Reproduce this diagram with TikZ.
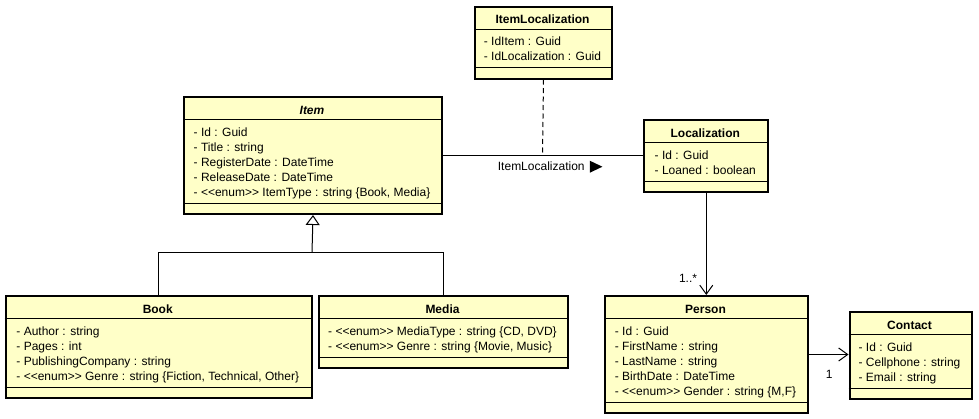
\documentclass[tikz,border=0pt]{standalone}
\usepackage{fontspec}
\newfontfamily\umlfont{Liberation Sans}
\usetikzlibrary{arrows.meta,calc}
\definecolor{clsfill}{RGB}{255,255,200}
\newcommand\umlclass[7]{%
  \pgfmathsetmacro\clsH{42+15*#5}%
  \pgfmathsetmacro\clsW{#4-#2}%
  \node[clsbox, minimum width=\clsW pt, minimum height=\clsH pt] (#1) at (#2,#3) {};
  \draw[septr] (#2,#3+23.5) -- (#4,#3+23.5);
  \draw[septr] (#2,#3+32+15*#5) -- (#4,#3+32+15*#5);
  \node[clstitle] (#1-title) at ({(#2+#4)/2},#3+18) {#6};
  \node[clsattrs] (#1-attrs) at ({(#2+#4)/2},#3+30) {\rule{0pt}{10pt}#7};
}
\begin{document}
\begin{tikzpicture}[x=1pt,y=-1pt,
  clsbox/.style={draw=black, line width=2pt, fill=clsfill, rectangle, inner sep=0pt, anchor=north west},
  septr/.style={line width=1pt},
  clstitle/.style={font=\umlfont\fontsize{12}{15}\selectfont\bfseries, anchor=base, inner sep=0pt},
  clsattrs/.style={font=\umlfont\fontsize{12}{15}\selectfont, align=left, anchor=north, inner sep=0pt},
  conn/.style={line width=1pt},
  lbl/.style={font=\umlfont\fontsize{12}{15}\selectfont, inner sep=0pt},
]
\useasboundingbox (0,0) rectangle (979,418);
\fill[white] (0,0) rectangle (979,418);

\umlclass{itemloc}{474}{5.5}{611}{2}{ItemLocalization}{- IdItem : Guid\\- IdLocalization : Guid}
\umlclass{item}{183}{96}{441}{5}{\itshape Item}{- Id : Guid\\- Title : string\\- RegisterDate : DateTime\\- ReleaseDate : DateTime\\- <<enum>> ItemType : string \{Book, Media\}}
\umlclass{loc}{643.3}{119}{767.3}{2}{Localization}{- Id : Guid\\- Loaned : boolean}
\umlclass{book}{4.5}{295}{311}{4}{Book}{- Author : string\\- Pages : int\\- PublishingCompany : string\\- <<enum>> Genre : string \{Fiction, Technical, Other\}}
\umlclass{media}{318.3}{295}{566.7}{2}{Media}{- <<enum>> MediaType : string \{CD, DVD\}\\- <<enum>> Genre : string \{Movie, Music\}}
\umlclass{person}{604.3}{295}{806.7}{5}{Person}{- Id : Guid\\- FirstName : string\\- LastName : string\\- BirthDate : DateTime\\- <<enum>> Gender : string \{M,F\}}
\umlclass{contact}{848.5}{311}{970.5}{3}{Contact}{- Id : Guid\\- Cellphone : string\\- Email : string}

% association Item -- Localization with association class
\coordinate (assoc) at (542.5,155.3);
\draw[conn] (item.east |- assoc) -- (loc.west |- assoc);
\draw[conn, dash pattern=on 5pt off 3.5pt] (itemloc.south) -- (assoc);
\node[lbl, anchor=base west] (assoclbl) at (497.7,170) {ItemLocalization};
\fill ($(assoclbl.east)+(5,-5)$) -- ++(12.6,6) -- ++(-12.6,6) -- cycle;

% generalization
\coordinate (gj) at (312,252.3);
\draw[conn] (book.north) |- (gj) -| (media.north);
\draw[conn, -{Triangle[open, length=10pt, width=14pt, fill=white]}] (gj) -- (item.south);

% Localization -> Person
\draw[conn, -{Straight Barb[length=9pt, width=13pt]}] (loc.south) -- (loc.south |- person.north);
\node[lbl] (mult1) at (688,278.3) {1..*};

% Person -> Contact
\draw[conn, -{Straight Barb[length=9pt, width=13pt]}] (person.east) -- (person.east -| contact.west);
\node[lbl] (mult2) at (829.3,374) {1};
\end{tikzpicture}
\end{document}
